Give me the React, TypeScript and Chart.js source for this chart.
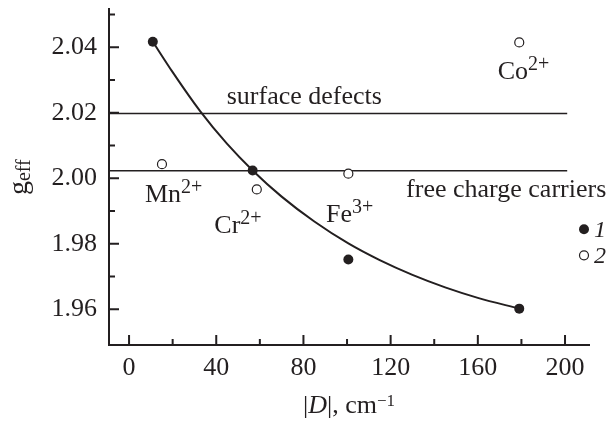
import React, { useEffect, useRef } from 'react';
import { Chart, registerables } from 'chart.js';

Chart.register(...registerables);

const INK = '#231f20';
const SERIF = '"Liberation Serif", "Times New Roman", serif';

// Axis ranges and ticks
const xRange = [-9.2, 211];
const yRange = [1.9491, 2.0516];
const xTicks = [0, 40, 80, 120, 160, 200];
const xMinorTicks = [20, 60, 100, 140, 180];
const yTicks = [1.96, 1.98, 2.0, 2.02, 2.04];
const yMinorTicks = [1.97, 1.99, 2.01, 2.03, 2.05];

// Series 1 (filled) and 2 (open)
const series1X = [10.9, 56.7, 100.6, 179];
const series1Y = [2.0417, 2.0024, 1.9752, 1.9602];
const series2X = [15.1, 58.6, 100.6, 179];
const series2Y = [2.0043, 1.9966, 2.0014, 2.0415];

// Fitted curve
const fitX = [10.9, 20, 32.6, 45, 56.7, 70, 85, 100.6, 115, 130, 145, 160, 179];
const fitY = [2.0417, 2.0324, 2.0205, 2.0105, 2.0024, 1.9944, 1.9868, 1.9801, 1.975, 1.9705, 1.9667, 1.9635, 1.9602];

// Reference levels
const levelNames = ['surface defects', 'free charge carriers'];
const levelY = [2.0198, 2.0023];
const levelX = [-9.2, 201];
const levelLabelX = [44.8, 127.1];
const levelLabelY = [2.0226, 1.9942];

// Ion labels
const ionNames = ['Mn', 'Cr', 'Fe', 'Co'];
const ionCharges = ['2+', '2+', '3+', '2+'];
const ionLabelX = [7.3, 39.1, 90.4, 169.1];
const ionLabelY = [1.99276, 1.98342, 1.98666, 2.03023];

const legendLabels = ['1', '2'];

type Part = { text: string; font: string; dy: number };

function drawParts(ctx: CanvasRenderingContext2D, parts: Part[], x: number, y: number) {
  let cx = x;
  for (const p of parts) {
    ctx.font = p.font;
    ctx.fillText(p.text, cx, y + p.dy);
    cx += ctx.measureText(p.text).width;
  }
}
function measureParts(ctx: CanvasRenderingContext2D, parts: Part[]) {
  let w = 0;
  for (const p of parts) {
    ctx.font = p.font;
    w += ctx.measureText(p.text).width;
  }
  return w;
}

const decorPlugin = {
  id: 'decor',
  afterDraw(chart: any) {
    const ctx: CanvasRenderingContext2D = chart.ctx;
    const xs = chart.scales.x;
    const ys = chart.scales.y;
    const area = chart.chartArea;
    ctx.save();
    ctx.strokeStyle = INK;
    ctx.fillStyle = INK;
    ctx.lineWidth = 2;
    // inward ticks
    const tick = (vals: number[], len: number, horiz: boolean) => {
      ctx.beginPath();
      for (const v of vals) {
        if (horiz) {
          const px = xs.getPixelForValue(v);
          ctx.moveTo(px, area.bottom);
          ctx.lineTo(px, area.bottom - len);
        } else {
          const py = ys.getPixelForValue(v);
          ctx.moveTo(area.left, py);
          ctx.lineTo(area.left + len, py);
        }
      }
      ctx.stroke();
    };
    tick(xTicks, 10, true);
    tick(xMinorTicks, 6, true);
    tick(yTicks, 10, false);
    tick(yMinorTicks, 6, false);

    ctx.textAlign = 'left';
    ctx.textBaseline = 'alphabetic';
    const main = `26px ${SERIF}`;
    const sup = `20px ${SERIF}`;
    // level labels
    levelNames.forEach((n, i) => {
      ctx.font = main;
      ctx.fillText(n, xs.getPixelForValue(levelLabelX[i]), ys.getPixelForValue(levelLabelY[i]));
    });
    // ion labels
    ionNames.forEach((n, i) => {
      drawParts(
        ctx,
        [
          { text: n, font: main, dy: 0 },
          { text: ionCharges[i], font: sup, dy: -9 },
        ],
        xs.getPixelForValue(ionLabelX[i]),
        ys.getPixelForValue(ionLabelY[i])
      );
    });

    // legend
    const lx = area.right - 5;
    const ly = [area.top + 220, area.top + 246];
    legendLabels.forEach((t, i) => {
      ctx.beginPath();
      ctx.arc(lx, ly[i], i === 0 ? 5 : 4.5, 0, Math.PI * 2);
      if (i === 0) {
        ctx.fillStyle = INK;
        ctx.fill();
      } else {
        ctx.fillStyle = '#fff';
        ctx.fill();
        ctx.lineWidth = 1.2;
        ctx.strokeStyle = INK;
        ctx.stroke();
      }
      ctx.fillStyle = INK;
      ctx.font = `italic 24px ${SERIF}`;
      ctx.fillText(t, lx + 10, ly[i] + 8);
    });

    // x title
    const xParts: Part[] = [
      { text: '|', font: main, dy: 0 },
      { text: 'D', font: `italic 26px ${SERIF}`, dy: 0 },
      { text: '|, cm', font: main, dy: 0 },
      { text: '\u22121', font: `17px ${SERIF}`, dy: -7 },
    ];
    const w = measureParts(ctx, xParts);
    drawParts(ctx, xParts, (area.left + area.right) / 2 - w / 2, 413);

    // y title
    const yParts: Part[] = [
      { text: 'g', font: `28px ${SERIF}`, dy: 0 },
      { text: 'eff', font: `20px ${SERIF}`, dy: 3 },
    ];
    const wy = measureParts(ctx, yParts);
    ctx.save();
    ctx.translate(27, (area.top + area.bottom) / 2 + wy / 2);
    ctx.rotate(-Math.PI / 2);
    drawParts(ctx, yParts, 0, 0);
    ctx.restore();

    ctx.restore();
  },
};

export default function App() {
  const ref = useRef<HTMLCanvasElement>(null);
  useEffect(() => {
    const lineDs = (y: number) => ({
      type: 'line' as const,
      data: levelX.map((x) => ({ x, y })),
      borderColor: INK,
      borderWidth: 1.4,
      pointRadius: 0,
      showLine: true,
      order: 3,
    });
    const chart = new Chart(ref.current!, {
      type: 'scatter',
      data: {
        datasets: [
          lineDs(levelY[0]) as any,
          lineDs(levelY[1]) as any,
          {
            type: 'line',
            data: fitX.map((x, i) => ({ x, y: fitY[i] })),
            borderColor: INK,
            borderWidth: 2,
            pointRadius: 0,
            cubicInterpolationMode: 'monotone',
            showLine: true,
            order: 2,
          } as any,
          {
            data: series2X.map((x, i) => ({ x, y: series2Y[i] })),
            pointRadius: 4.5,
            pointBackgroundColor: '#fff',
            pointBorderColor: INK,
            pointBorderWidth: 1.2,
            showLine: false,
            order: 1,
          },
          {
            data: series1X.map((x, i) => ({ x, y: series1Y[i] })),
            pointRadius: 5,
            pointBackgroundColor: INK,
            pointBorderColor: INK,
            pointBorderWidth: 0,
            showLine: false,
            order: 0,
          },
        ],
      },
      options: {
        responsive: false,
        animation: false,
        layout: { padding: { top: 9.3, right: 27, left: 0, bottom: 0 } },
        plugins: { legend: { display: false }, tooltip: { enabled: false } },
        scales: {
          x: {
            type: 'linear',
            bounds: 'data',
            min: xRange[0],
            max: xRange[1],
            afterBuildTicks: (s: any) => {
              s.ticks = xTicks.map((v) => ({ value: v }));
            },
            afterFit: (s: any) => {
              s.height = 76;
              s.paddingLeft = 0;
              s.paddingRight = 0;
            },
            grid: { display: true, drawOnChartArea: false, drawTicks: false },
            border: { display: true, color: INK, width: 2 },
            ticks: {
              font: { family: SERIF, size: 26 },
              color: INK,
              padding: 8,
              autoSkip: false,
              maxRotation: 0,
              callback: (v: any) => String(v),
            },
          },
          y: {
            type: 'linear',
            bounds: 'data',
            min: yRange[0],
            max: yRange[1],
            afterBuildTicks: (s: any) => {
              s.ticks = yTicks.map((v) => ({ value: v }));
            },
            afterFit: (s: any) => {
              s.width = 109;
              s.paddingTop = 0;
              s.paddingBottom = 0;
            },
            grid: { display: true, drawOnChartArea: false, drawTicks: false },
            border: { display: true, color: INK, width: 2 },
            ticks: {
              font: { family: SERIF, size: 26 },
              color: INK,
              padding: 12,
              autoSkip: false,
              callback: (v: any) => Number(v).toFixed(2),
            },
          },
        },
      },
      plugins: [decorPlugin],
    });
    return () => chart.destroy();
  }, []);
  return (
    <div style={{ position: 'absolute', left: 0, top: 0, width: 616, height: 421, background: '#fff' }}>
      <canvas ref={ref} width={616} height={421} style={{ display: 'block', width: 616, height: 421 }} />
    </div>
  );
}
